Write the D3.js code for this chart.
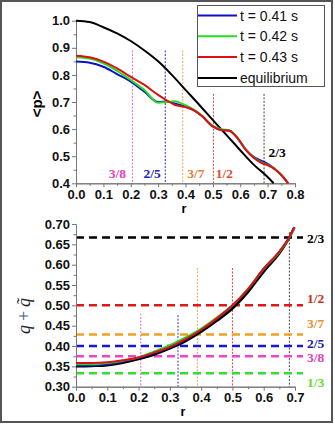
<!DOCTYPE html>
<html>
<head>
<meta charset="utf-8">
<script src="https://cdn.jsdelivr.net/npm/d3@7"></script>
<style>
  body { margin: 0; background: #fff; }
  svg { display: block; }
  .tick text { font-family: 'Liberation Sans', Arial, sans-serif; font-weight: bold; font-size: 13px; fill: #111; }
  .axis path, .axis line { stroke: #777; }
</style>
</head>
<body>
<svg id="chart"></svg>
<script>
// ---- top panel: pressure profiles <p>(r)
const rTop = [0, 0.05, 0.1, 0.15, 0.2, 0.25, 0.3, 0.33, 0.36, 0.4, 0.43, 0.46, 0.5, 0.53, 0.56, 0.59, 0.62, 0.65, 0.68, 0.7, 0.73, 0.755, 0.775]
const pRed = [0.871, 0.865, 0.849, 0.824, 0.793, 0.763, 0.726, 0.707, 0.69, 0.681, 0.67, 0.648, 0.61, 0.597, 0.594, 0.567, 0.523, 0.493, 0.474, 0.467, 0.449, 0.425, 0.4]
const pGreen = [0.865, 0.86, 0.843, 0.815, 0.781, 0.744, 0.697, 0.7, 0.703, 0.688, 0.672, 0.65, 0.612, 0.6, 0.596, 0.568, 0.524, 0.494, 0.476, 0.468, 0.45, 0.425, 0.4]
const pBlue = [0.849, 0.845, 0.83, 0.803, 0.775, 0.738, 0.7, 0.702, 0.695, 0.683, 0.67, 0.648, 0.61, 0.597, 0.594, 0.567, 0.525, 0.497, 0.482, 0.472, 0.45, 0.425, 0.4]
const rEq = [0, 0.05, 0.1, 0.15, 0.2, 0.25, 0.3, 0.35, 0.4, 0.45, 0.5, 0.55, 0.6, 0.65, 0.7, 0.722]
const pEq = [1.0, 0.995, 0.976, 0.953, 0.925, 0.89, 0.85, 0.8, 0.745, 0.69, 0.633, 0.578, 0.522, 0.468, 0.423, 0.4]

// ---- bottom panel: q + q~ (r)
const rBot = [0, 0.05, 0.1, 0.15, 0.2, 0.25, 0.3, 0.35, 0.4, 0.45, 0.5, 0.55, 0.6, 0.65, 0.68, 0.698]
const qRed = [0.358, 0.358, 0.36, 0.365, 0.372, 0.384, 0.398, 0.417, 0.44, 0.468, 0.5, 0.54, 0.59, 0.632, 0.665, 0.692]
const qGreen = [0.355, 0.355, 0.358, 0.364, 0.372, 0.387, 0.402, 0.421, 0.443, 0.47, 0.5, 0.541, 0.589, 0.631, 0.664, 0.69]
const qBlue = [0.352, 0.352, 0.355, 0.362, 0.371, 0.383, 0.397, 0.416, 0.44, 0.467, 0.499, 0.54, 0.59, 0.632, 0.665, 0.69]
const qEq = [0.35, 0.351, 0.353, 0.359, 0.368, 0.379, 0.394, 0.412, 0.435, 0.462, 0.492, 0.533, 0.583, 0.628, 0.664, 0.692]

// rational surfaces
const surfNames = ['3/8', '2/5', '3/7', '1/2', '2/3']
const surfRTop = [0.206, 0.326, 0.39, 0.502, 0.687]
const surfRBot = [0.207, 0.326, 0.388, 0.5, 0.682]
const dashNames = ['2/3', '1/2', '3/7', '2/5', '3/8', '1/3']
const dashQ = [0.6667, 0.5, 0.4286, 0.4, 0.375, 0.3333]

const legendLabels = ['t = 0.41 s', 't = 0.42 s', 't = 0.43 s', 'equilibrium']
const xTicksTop = [0, 0.1, 0.2, 0.3, 0.4, 0.5, 0.6, 0.7, 0.8]
const yTicksTop = [0.4, 0.5, 0.6, 0.7, 0.8, 0.9, 1.0]
const xTicksBot = [0, 0.1, 0.2, 0.3, 0.4, 0.5, 0.6, 0.7]
const yTicksBot = [0.3, 0.35, 0.4, 0.45, 0.5, 0.55, 0.6, 0.65, 0.7]

const W = 335, H = 424
const svg = d3.select('#chart').attr('width', W).attr('height', H)

const colBlue = '#1010c8', colGreen = '#22dd22', colRed = '#dd1111', colBlack = '#000'
const dotCol = { '3/8': '#ee66cc', '2/5': '#3030c0', '3/7': '#f0a050', '1/2': '#e04040', '2/3': '#444' }
const dashCol = { '2/3': '#000', '1/2': '#e01818', '3/7': '#f0a020', '2/5': '#1818d0', '3/8': '#ee44cc', '1/3': '#33dd33' }
const textColTop = { '3/8': '#e040c0', '2/5': '#2424b0', '3/7': '#e08030', '1/2': '#e05030', '2/3': '#000' }
const textColBot = { '2/3': '#000', '1/2': '#c83218', '3/7': '#e89030', '2/5': '#1a1ab0', '3/8': '#e040c0', '1/3': '#66dd33' }

// frame
svg.append('rect').attr('x', 1).attr('y', 1).attr('width', 331).attr('height', 421)
  .attr('fill', 'none').attr('stroke', '#555').attr('stroke-width', 2)

// SCALES
const xTop = d3.scaleLinear().domain([0, 0.8]).range([76, 295])
const yTop = d3.scaleLinear().domain([0.4, 1.0]).range([183.3, 20.7])
const xBot = d3.scaleLinear().domain([0, 0.7]).range([76, 295])
const yBot = d3.scaleLinear().domain([0.3, 0.7]).range([386.7, 224])

const midTicks = ticks => ticks.slice(1).map((t, i) => (t + ticks[i]) / 2)

function drawAxes (g, x, y, xt, yt, xFmt, yFmt) {
  const y0 = y.range()[0], x0 = x.range()[0]
  g.append('g').attr('class', 'axis').attr('transform', `translate(0,${y0})`)
    .call(d3.axisBottom(x).tickValues(midTicks(xt)).tickSize(2.5).tickFormat('').tickSizeOuter(0))
  g.append('g').attr('class', 'axis').attr('transform', `translate(0,${y0})`)
    .call(d3.axisBottom(x).tickValues(xt).tickSize(4).tickPadding(2).tickFormat(xFmt).tickSizeOuter(0))
  g.append('g').attr('class', 'axis').attr('transform', `translate(${x0},0)`)
    .call(d3.axisLeft(y).tickValues(midTicks(yt)).tickSize(2.5).tickFormat('').tickSizeOuter(0))
  g.append('g').attr('class', 'axis').attr('transform', `translate(${x0},0)`)
    .call(d3.axisLeft(y).tickValues(yt).tickSize(4).tickPadding(2).tickFormat(yFmt).tickSizeOuter(0))
}

const zip = (a, b) => a.map((v, i) => [v, b[i]])

// ===== TOP PANEL =====
const gTop = svg.append('g')
// dotted verticals
const topTopY = { '3/8': 0.89, '2/5': 0.89, '3/7': 0.89, '1/2': 0.73, '2/3': 0.73 }
surfNames.forEach((n, i) => {
  gTop.append('line')
    .attr('x1', xTop(surfRTop[i])).attr('x2', xTop(surfRTop[i]))
    .attr('y1', yTop(topTopY[n])).attr('y2', yTop(0.4))
    .attr('stroke', dotCol[n]).attr('stroke-width', 1).attr('stroke-dasharray', '2,1.5')
})
drawAxes(gTop, xTop, yTop, xTicksTop, yTicksTop, d3.format('.1f'), d3.format('.1f'))

const lineTop = d3.line().x(d => xTop(d[0])).y(d => yTop(d[1])).curve(d3.curveMonotoneX)
;[[rEq, pEq, colBlack], [rTop, pBlue, colBlue], [rTop, pGreen, colGreen], [rTop, pRed, colRed]].forEach(([r, p, c]) => {
  gTop.append('path').attr('d', lineTop(zip(r, p))).attr('fill', 'none')
    .attr('stroke', c).attr('stroke-width', 2)
})

// rational labels in top panel
const topLabelPos = { '3/8': [-15, 0.42], '2/5': [-13, 0.42], '3/7': [13, 0.42], '1/2': [11, 0.42], '2/3': [13, 0.497] }
surfNames.forEach((n, i) => {
  const [dx, yv] = topLabelPos[n]
  gTop.append('text').attr('x', xTop(surfRTop[i]) + dx).attr('y', yTop(yv))
    .attr('text-anchor', 'middle')
    .style('font-family', "'Liberation Serif', 'Times New Roman', serif")
    .style('font-weight', 'bold').style('font-size', '13.5px')
    .attr('fill', textColTop[n]).text(n)
})

// axis titles
gTop.append('text').attr('transform', 'translate(42,104) rotate(-90)').attr('text-anchor', 'middle')
  .style('font-family', "'Liberation Sans', Arial, sans-serif").style('font-weight', 'bold').style('font-size', '15px')
  .text('<p>')
gTop.append('text').attr('x', 184).attr('y', 213).attr('text-anchor', 'middle')
  .style('font-family', "'Liberation Sans', Arial, sans-serif").style('font-weight', 'bold').style('font-size', '12.5px')
  .text('r')

// legend
const leg = svg.append('g')
leg.append('rect').attr('x', 197.5).attr('y', 5.5).attr('width', 127).attr('height', 81)
  .attr('fill', '#fff').attr('stroke', '#555').attr('stroke-width', 1)
const legCols = [colBlue, colGreen, colRed, colBlack]
legendLabels.forEach((l, i) => {
  const yy = 15.5 + i * 20.8
  leg.append('line').attr('x1', 198).attr('x2', 237).attr('y1', yy).attr('y2', yy)
    .attr('stroke', legCols[i]).attr('stroke-width', 2)
  leg.append('text').attr('x', 240).attr('y', yy + 5).text(l)
    .style('font-family', "'Liberation Sans', Arial, sans-serif").style('font-size', '14px').attr('fill', '#111')
})

// ===== BOTTOM PANEL =====
const gBot = svg.append('g')
const botTopY = { '3/8': 0.48, '2/5': 0.476, '3/7': 0.592, '1/2': 0.592, '2/3': 0.68 }
surfNames.forEach((n, i) => {
  gBot.append('line')
    .attr('x1', xBot(surfRBot[i])).attr('x2', xBot(surfRBot[i]))
    .attr('y1', yBot(botTopY[n])).attr('y2', yBot(0.3))
    .attr('stroke', dotCol[n]).attr('stroke-width', 1).attr('stroke-dasharray', '2,1.5')
})
const botLabelDy = { '2/3': 5, '1/2': -2, '3/7': -6, '2/5': 2, '3/8': 6, '1/3': 14 }
dashNames.forEach((n, i) => {
  gBot.append('line').attr('x1', xBot(0)).attr('x2', 303)
    .attr('y1', yBot(dashQ[i])).attr('y2', yBot(dashQ[i]))
    .attr('stroke', dashCol[n]).attr('stroke-width', 2.5).attr('stroke-dasharray', '8,5')
  gBot.append('text').attr('x', 307).attr('y', yBot(dashQ[i]) + botLabelDy[n]).text(n)
    .style('font-family', "'Liberation Serif', 'Times New Roman', serif")
    .style('font-weight', 'bold').style('font-size', '13.5px').attr('fill', textColBot[n])
})
drawAxes(gBot, xBot, yBot, xTicksBot, yTicksBot, d3.format('.1f'), d3.format('.2f'))

const lineBot = d3.line().x(d => xBot(d[0])).y(d => yBot(d[1])).curve(d3.curveMonotoneX)
;[[qEq, colBlack, 2.5], [qBlue, colBlue, 2], [qGreen, colGreen, 2], [qRed, colRed, 2]].forEach(([q, c, w]) => {
  gBot.append('path').attr('d', lineBot(zip(rBot, q))).attr('fill', 'none')
    .attr('stroke', c).attr('stroke-width', w)
})

gBot.append('text').attr('x', 183).attr('y', 416).attr('text-anchor', 'middle')
  .style('font-family', "'Liberation Sans', Arial, sans-serif").style('font-weight', 'bold').style('font-size', '12.5px')
  .text('r')

// y title: q + q~
const yt = gBot.append('text').attr('transform', 'translate(30,316) rotate(-90)').attr('text-anchor', 'middle')
  .style('font-family', "'Liberation Serif', 'Times New Roman', serif").style('font-size', '18px')
yt.append('tspan').style('font-style', 'italic').attr('fill', '#223').text('q')
yt.append('tspan').attr('fill', '#4a6080').attr('dx', 4).text('+')
yt.append('tspan').style('font-style', 'italic').attr('fill', '#223').attr('dx', 4).text('q\u0303')
</script>
</body>
</html>
